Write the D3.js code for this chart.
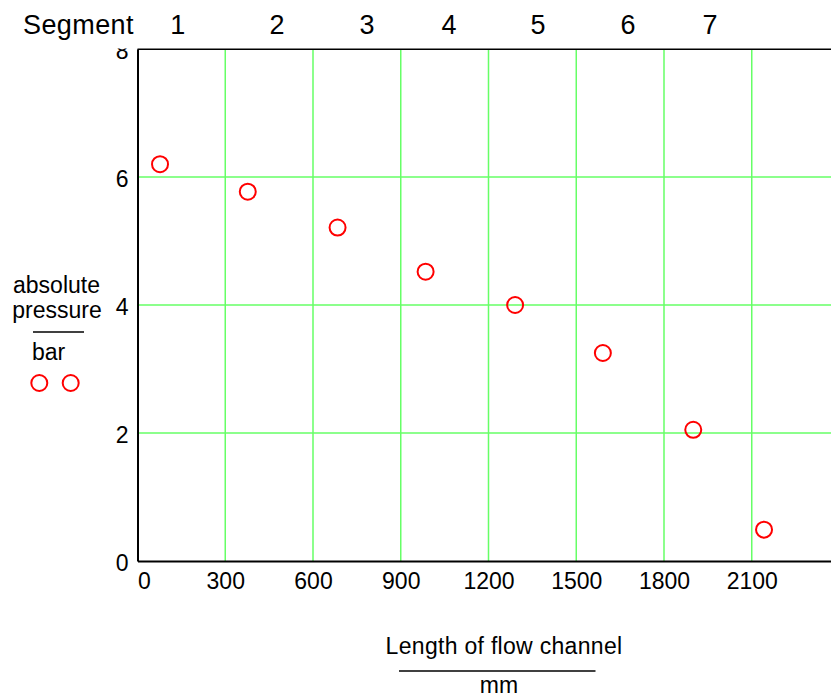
<!DOCTYPE html>
<html>
<head>
<meta charset="utf-8">
<script src="https://cdn.jsdelivr.net/npm/d3@7"></script>
<style>
  body { margin: 0; background: #fff; overflow: hidden; }
  text { font-family: "Liberation Sans", Arial, sans-serif; fill: #000; }
</style>
</head>
<body>
<div class="chart-container"></div>
<script>
// measured points: length of flow channel (mm) vs absolute pressure (bar)
const lengths = [77, 377, 684, 985, 1291, 1591, 1900, 2142];
const pressures = [6.20, 5.77, 5.21, 4.52, 4.00, 3.25, 2.05, 0.49];

// segment labels along the top, positioned in mm
const segments = ["1", "2", "3", "4", "5", "6", "7"];
const segmentPos = [138, 477, 785, 1065, 1369, 1677, 1957];

const xTicks = [0, 300, 600, 900, 1200, 1500, 1800, 2100];
const yTicks = [0, 2, 4, 6, 8];
const xGrid = [300, 600, 900, 1200, 1500, 1800, 2100, 2400];
const yGrid = [2, 4, 6];

const margin = {top: 49, left: 137.5},
  width = 702,
  height = 512;

const x = d3.scaleLinear().domain([0, 2400]).range([0, width]);
const y = d3.scaleLinear().domain([0, 8]).range([height, 0]);

const root = d3.select(".chart-container").append("svg")
    .attr("width", 831)
    .attr("height", 697);

const svg = root.append("g")
    .attr("transform", "translate(" + margin.left + "," + margin.top + ")");

// grid
svg.selectAll(".vgrid")
    .data(xGrid)
  .enter().append("line")
    .attr("x1", (d) => x(d)).attr("x2", (d) => x(d))
    .attr("y1", 0).attr("y2", height)
    .style("stroke", "#66ff66").style("stroke-width", 1.5);

svg.selectAll(".hgrid")
    .data(yGrid)
  .enter().append("line")
    .attr("x1", 0).attr("x2", width)
    .attr("y1", (d) => y(d)).attr("y2", (d) => y(d))
    .style("stroke", "#66ff66").style("stroke-width", 1.5);

// axes
const xAxis = svg.append("g")
    .attr("transform", "translate(0," + height + ")")
    .call(d3.axisBottom(x).tickValues(xTicks).tickFormat(d3.format("d"))
      .tickSize(0).tickSizeOuter(0).tickPadding(12));
xAxis.select(".domain").style("stroke", "#000").style("stroke-width", 2);
xAxis.selectAll("text")
    .style("font-size", "23px")
    .style("font-family", "'Liberation Sans', Arial, sans-serif")
    .style("text-anchor", (d) => d === 0 ? "start" : "middle");

const yAxis = svg.append("g")
    .call(d3.axisLeft(y).tickValues(yTicks).tickFormat(d3.format("d"))
      .tickSize(0).tickSizeOuter(0).tickPadding(9));
yAxis.select(".domain").style("stroke", "#000").style("stroke-width", 2);
yAxis.selectAll("text")
    .attr("dy", "0.42em")
    .style("font-size", "23px")
    .style("font-family", "'Liberation Sans', Arial, sans-serif");

// points
svg.selectAll(".dot")
    .data(lengths)
  .enter().append("circle")
    .attr("cx", (d) => x(d))
    .attr("cy", (d, i) => y(pressures[i]))
    .attr("r", 8)
    .style("fill", "none")
    .style("stroke", "#ff0000")
    .style("stroke-width", 2);

// band above the plot hides the top of the "8"
root.append("rect")
    .attr("x", 0).attr("y", 0)
    .attr("width", 831).attr("height", margin.top - 0.5)
    .style("fill", "#fff");

svg.append("line")
    .attr("x1", 0).attr("x2", width)
    .attr("y1", y(8)).attr("y2", y(8))
    .style("stroke", "#000").style("stroke-width", 2);

// segment header
root.append("text")
    .attr("x", 23).attr("y", 34)
    .style("font-size", "27px")
    .style("letter-spacing", "0.4px")
    .text("Segment");

root.selectAll(".seg")
    .data(segments)
  .enter().append("text")
    .attr("x", (d, i) => margin.left + x(segmentPos[i]))
    .attr("y", 34)
    .style("font-size", "27px")
    .style("text-anchor", "middle")
    .text((d) => d);

// y title
const yt = root.append("g");
yt.append("text").attr("x", 56.5).attr("y", 293)
    .style("font-size", "23px").style("text-anchor", "middle").text("absolute");
yt.append("text").attr("x", 57).attr("y", 318)
    .style("font-size", "23px").style("text-anchor", "middle").text("pressure");
yt.append("line").attr("x1", 33).attr("x2", 84).attr("y1", 332).attr("y2", 332)
    .style("stroke", "#000").style("stroke-width", 1.5);
yt.append("text").attr("x", 32).attr("y", 360)
    .style("font-size", "23px").text("bar");
yt.selectAll(".legend")
    .data([39.3, 70.7])
  .enter().append("circle")
    .attr("cx", (d) => d).attr("cy", 383).attr("r", 8)
    .style("fill", "none").style("stroke", "#ff0000").style("stroke-width", 2);

// x title
const xt = root.append("g");
xt.append("text").attr("x", 504).attr("y", 654)
    .style("font-size", "23px").style("letter-spacing", "0.3px")
    .style("text-anchor", "middle").text("Length of flow channel");
xt.append("line").attr("x1", 399).attr("x2", 595.5).attr("y1", 671).attr("y2", 671)
    .style("stroke", "#000").style("stroke-width", 1.5);
xt.append("text").attr("x", 499).attr("y", 693)
    .style("font-size", "23px").style("text-anchor", "middle").text("mm");
</script>
</body>
</html>
